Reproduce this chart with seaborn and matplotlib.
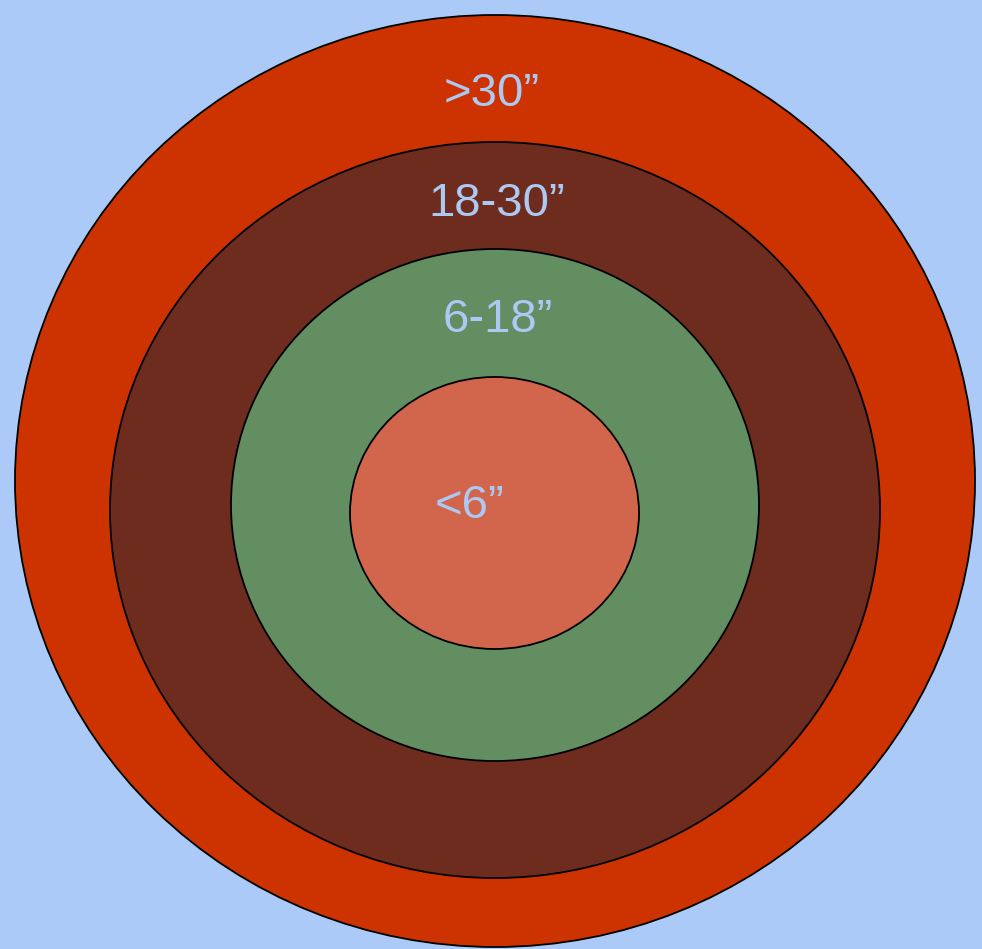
import matplotlib
matplotlib.use('Agg')
import matplotlib.pyplot as plt
import seaborn as sns
from matplotlib.patches import Ellipse

sns.set_theme(style='white')
plt.rcParams['font.family'] = ['Liberation Sans', 'DejaVu Sans']

# rings, outermost first (pixel coords of the original picture)
labels = ['>30\u201d', '18-30\u201d', '6-18\u201d', '<6\u201d']
centers_x = [495, 495, 495, 494.5]
centers_y = [481, 510, 505, 513]
widths = [960, 770, 528, 289]
heights = [932, 736, 512, 272]
colors = ['#cc3300', '#6e2c1e', '#638e61', '#d2664c']
label_x = [492, 497, 498, 470]
label_y = [94, 204, 320, 506]

bg = '#abcaf7'
text_color = '#abc9f3'

fig = plt.figure(figsize=(9.82, 9.49), dpi=100)
fig.patch.set_facecolor(bg)
ax = fig.add_axes([0, 0, 1, 1])
ax.set_facecolor(bg)
ax.set_xlim(0, 982)
ax.set_ylim(949, 0)
ax.axis('off')

for cx, cy, w, h, c in zip(centers_x, centers_y, widths, heights, colors):
    ax.add_patch(Ellipse((cx, cy), w, h, facecolor=c, edgecolor='black', lw=1.3))

for t, x, y in zip(labels, label_x, label_y):
    ax.text(x, y, t, ha='center', va='center', fontsize=34, color=text_color)

fig.savefig('out.png', dpi=100, facecolor=bg)
